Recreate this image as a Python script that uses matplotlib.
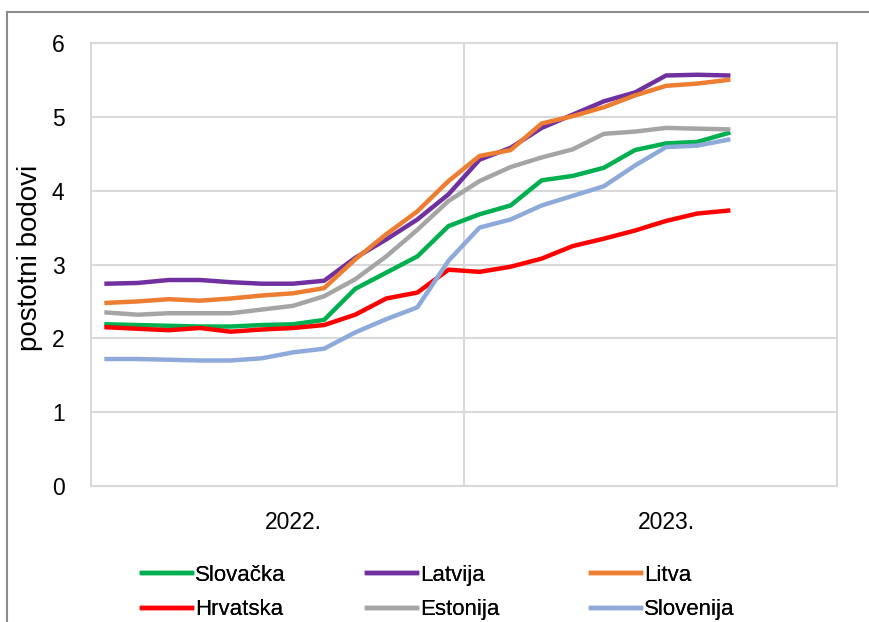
import numpy as np
import matplotlib
matplotlib.use("Agg")
import matplotlib.pyplot as plt
from matplotlib.patches import Rectangle

# monthly, Jan 2022 - Sep 2023, percentage points
months = np.arange(21)
year_labels = ["2022.", "2023."]

slovacka = [2.19, 2.18, 2.17, 2.16, 2.16, 2.18, 2.19, 2.25, 2.67, 2.89, 3.11,
            3.52, 3.68, 3.80, 4.14, 4.20, 4.31, 4.55, 4.64, 4.66, 4.78]
latvija = [2.74, 2.75, 2.79, 2.79, 2.76, 2.74, 2.74, 2.78, 3.09, 3.34, 3.61,
           3.95, 4.42, 4.58, 4.85, 5.03, 5.21, 5.33, 5.56, 5.57, 5.56]
litva = [2.48, 2.50, 2.53, 2.51, 2.54, 2.58, 2.61, 2.68, 3.07, 3.41, 3.72,
         4.13, 4.47, 4.55, 4.91, 5.01, 5.13, 5.29, 5.42, 5.45, 5.50]
hrvatska = [2.15, 2.13, 2.11, 2.14, 2.09, 2.12, 2.14, 2.18, 2.32, 2.54, 2.62,
            2.93, 2.90, 2.97, 3.08, 3.25, 3.35, 3.46, 3.59, 3.69, 3.73]
estonija = [2.35, 2.32, 2.34, 2.34, 2.34, 2.39, 2.44, 2.57, 2.80, 3.11, 3.47,
            3.86, 4.13, 4.32, 4.45, 4.56, 4.77, 4.80, 4.85, 4.84, 4.83]
slovenija = [1.72, 1.72, 1.71, 1.70, 1.70, 1.73, 1.81, 1.86, 2.08, 2.26, 2.42,
             3.05, 3.50, 3.61, 3.80, 3.93, 4.06, 4.34, 4.59, 4.61, 4.69]

plt.rcParams["font.family"] = ["Liberation Sans", "DejaVu Sans"]

fig = plt.figure(figsize=(8.7, 6.22), dpi=100)
ax = fig.add_axes([91 / 870, 1 - 486 / 622, (837 - 91) / 870, (486 - 43) / 622])

grid_col = "#d9d9d9"
lw = 3.2
l_svk, = ax.plot(months, slovacka, color="#00b050", lw=lw, label="Slovačka", zorder=3)
l_hrv, = ax.plot(months, hrvatska, color="#ff0000", lw=lw, label="Hrvatska", zorder=3)
l_lva, = ax.plot(months, latvija, color="#7030a0", lw=lw, label="Latvija", zorder=3)
l_est, = ax.plot(months, estonija, color="#a5a5a5", lw=lw, label="Estonija", zorder=3)
l_ltu, = ax.plot(months, litva, color="#ed7d31", lw=lw, label="Litva", zorder=3)
l_svn, = ax.plot(months, slovenija, color="#8eaadb", lw=lw, label="Slovenija", zorder=3)

ax.set_xlim(-0.5, 23.5)
ax.set_ylim(0, 6)
ax.set_yticks(range(7))
ax.set_xticks([6, 18])
ax.set_xticklabels(year_labels)
ax.tick_params(axis="both", length=0, labelsize=16.5)
ax.tick_params(axis="y", pad=19)
ax.tick_params(axis="x", pad=18)

ax.grid(axis="y", color=grid_col, lw=1.5, zorder=0)
ax.axvline(11.5, color=grid_col, lw=1.5, zorder=0)
for s in ax.spines.values():
    s.set_color(grid_col)
    s.set_linewidth(1.5)

fig.text(30 / 870, 1 - 258 / 622, "postotni bodovi", rotation=90,
         ha="center", va="center", fontsize=20)

# one small legend per column so the columns sit where Excel put them
columns = [(142, [l_svk, l_hrv]), (367, [l_lva, l_est]), (591, [l_ltu, l_svn])]
for x0, handles in columns:
    leg = fig.legend(handles=handles, loc="upper left",
                     bbox_to_anchor=(x0 / 870, 1 - 565 / 622),
                     frameon=False, fontsize=16, borderpad=0, borderaxespad=0,
                     handlelength=2.25, handletextpad=0.13, labelspacing=0.6)
    fig.add_artist(leg)

fig.patches.append(Rectangle((7 / 870, -0.1), 1.2, 1.1 - 12 / 622,
                             transform=fig.transFigure, fill=False,
                             edgecolor="#8c8c8c", lw=1.5))

fig.savefig("out.png", dpi=100)
